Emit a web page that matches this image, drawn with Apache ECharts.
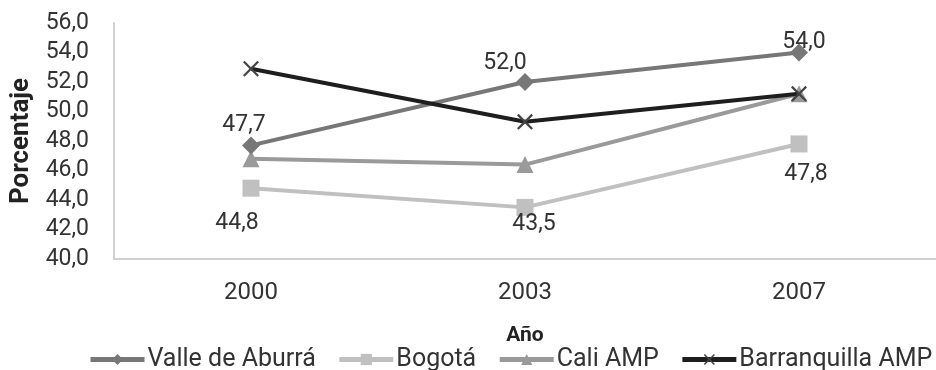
<!DOCTYPE html>
<html><head><meta charset="utf-8">
<script src="https://cdn.jsdelivr.net/npm/echarts@6/dist/echarts.min.js"></script>
<style>html,body{margin:0;padding:0;background:#fff}#c{width:936px;height:370px}</style>
</head><body><div id="c"></div>
<script>
const categories = ['2000', '2003', '2007'];
const valleAburra = [47.7, 52.0, 54.0];
const bogota = [44.8, 43.5, 47.8];
const caliAMP = [46.8, 46.4, 51.2];
const barranquillaAMP = [52.9, 49.3, 51.2];
const seriesNames = ['Valle de Aburrá', 'Bogotá', 'Cali AMP', 'Barranquilla AMP'];
const yTicks = {min: 40, max: 56, interval: 2};

const FONT = 'Roboto';
const fmt = v => v.toFixed(1).replace('.', ',');
const crossPath = 'path://M0,1L1,0L5,4L9,0L10,1L6,5L10,9L9,10L5,6L1,10L0,9L4,5Z';

// label placement per point (style only)
const valleLabels = [
  {position: 'top', distance: 0, offset: [-7, 0]},
  {position: 'top', distance: -2, offset: [-20, 0]},
  {position: 'top', distance: -10, offset: [5, 0]}
];
const bogotaLabels = [
  {position: 'bottom', distance: 15, offset: [-14, 0]},
  {position: 'bottom', distance: -3, offset: [9, 0]},
  {position: 'bottom', distance: 10, offset: [7, 0]}
];

function withLabels(vals, cfg) {
  return vals.map((v, i) => ({
    value: v,
    label: Object.assign({show: true, formatter: p => fmt(p.value), fontSize: 23, fontFamily: FONT, color: '#333'}, cfg[i])
  }));
}

const chart = echarts.init(document.getElementById('c'), null, {renderer: 'canvas'});
chart.setOption({
  animation: false,
  textStyle: {fontFamily: FONT},
  grid: {left: 114, width: 826, top: 23, bottom: 111, containLabel: false},
  legend: {
    data: seriesNames,
    left: 88, top: 347, padding: 0,
    itemWidth: 54, itemHeight: 14, itemGap: 21,
    lineStyle: {width: 5},
    textStyle: {fontSize: 25, fontFamily: FONT, color: '#333', padding: [0, 0, 0, -2]}
  },
  xAxis: {
    type: 'category', data: categories, boundaryGap: true,
    name: 'Año', nameLocation: 'middle', nameGap: 66,
    nameTextStyle: {fontSize: 21, fontWeight: 'bold', color: '#222', fontFamily: FONT},
    axisLine: {lineStyle: {color: '#d0d0d0', width: 2}},
    axisTick: {show: false},
    axisLabel: {fontSize: 24, color: '#333', margin: 22, fontFamily: FONT}
  },
  yAxis: {
    type: 'value', min: yTicks.min, max: yTicks.max, interval: yTicks.interval,
    name: 'Porcentaje', nameLocation: 'middle', nameGap: 80, nameRotate: 90,
    nameTextStyle: {fontSize: 26, fontWeight: 'bold', color: '#222', fontFamily: FONT},
    axisLine: {show: true, lineStyle: {color: '#d0d0d0', width: 2}},
    axisTick: {show: false},
    splitLine: {show: false},
    axisLabel: {fontSize: 23, color: '#333', margin: 25, fontFamily: FONT, formatter: v => fmt(v)}
  },
  series: [
    {name: seriesNames[0], type: 'line', data: withLabels(valleAburra, valleLabels),
     symbol: 'diamond', symbolSize: 18, lineStyle: {color: '#777', width: 4},
     itemStyle: {color: '#777'}, z: 3},
    {name: seriesNames[1], type: 'line', data: withLabels(bogota, bogotaLabels),
     symbol: 'rect', symbolSize: 17, lineStyle: {color: '#c0c0c0', width: 4},
     itemStyle: {color: '#c0c0c0'}, z: 2},
    {name: seriesNames[2], type: 'line', data: caliAMP,
     symbol: 'triangle', symbolSize: 17, lineStyle: {color: '#9a9a9a', width: 4},
     itemStyle: {color: '#9a9a9a'}, z: 2},
    {name: seriesNames[3], type: 'line', data: barranquillaAMP,
     symbol: crossPath, symbolSize: 16, lineStyle: {color: '#1e1e1e', width: 4},
     itemStyle: {color: '#444'}, z: 4}
  ]
});
</script>
</body></html>
